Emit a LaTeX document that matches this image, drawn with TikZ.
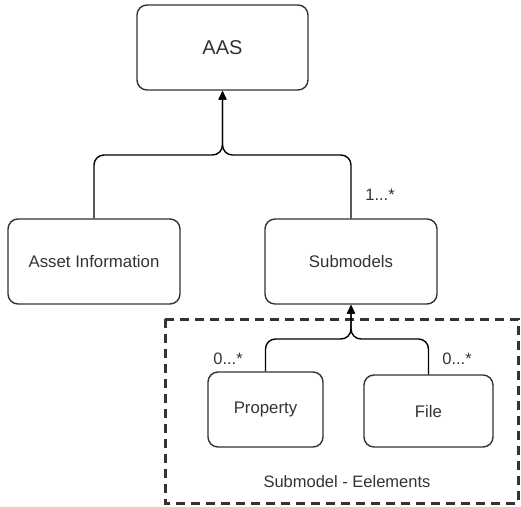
\documentclass[tikz,border=0pt]{standalone}
\usepackage{fontspec}
\setmainfont{Liberation Sans}
\usetikzlibrary{arrows.meta}
\definecolor{ink}{HTML}{333333}
\begin{document}
\begin{tikzpicture}[x=1pt,y=-1pt,
  box/.style={draw=ink, line width=1.4pt, rounded corners=10pt, inner sep=0pt, text=ink, font=\fontsize{16.8}{20}\selectfont},
  conn/.style={draw=black, line width=1.4pt, rounded corners=10pt, -{Triangle[length=9pt,width=8pt]}},
  lbl/.style={text=ink, font=\fontsize{16.5}{19}\selectfont, inner sep=0pt},
  group/.style={draw=ink, line width=3pt, dash pattern=on 9pt off 6pt}
]
\useasboundingbox (0,0) rectangle (521,506);
\draw[group] (165,319) rectangle (518,503);
\node[box, minimum width=171pt, minimum height=85pt, font=\fontsize{20}{24}\selectfont] (aas) at (222.5,47.5) {AAS};
\node[box, minimum width=172pt, minimum height=85pt] (ai) at (94,261.5) {Asset Information};
\node[box, minimum width=172pt, minimum height=85pt] (sm) at (351,261.5) {Submodels};
\node[box, minimum width=115pt, minimum height=75pt] (pr) at (265.5,409.5) {Property};
\node[box, minimum width=129pt, minimum height=72pt] (fi) at (428.5,411) {File};
\coordinate (j1) at (222.5,155);
\coordinate (j2) at (351,339);
\draw[conn] (ai.north) |- (j1) -- (aas.south);
\draw[conn] (sm.north) |- (j1) -- (aas.south);
\draw[conn] (pr.north) |- (j2) -- (sm.south);
\draw[conn] (fi.north) |- (j2) -- (sm.south);
\node[lbl] (l1) at (380,195) {1...*};
\node[lbl] (l2) at (228,359) {0...*};
\node[lbl] (l3) at (457,359) {0...*};
\node[lbl] (l4) at (347,482) {Submodel - Eelements};
\end{tikzpicture}
\end{document}
